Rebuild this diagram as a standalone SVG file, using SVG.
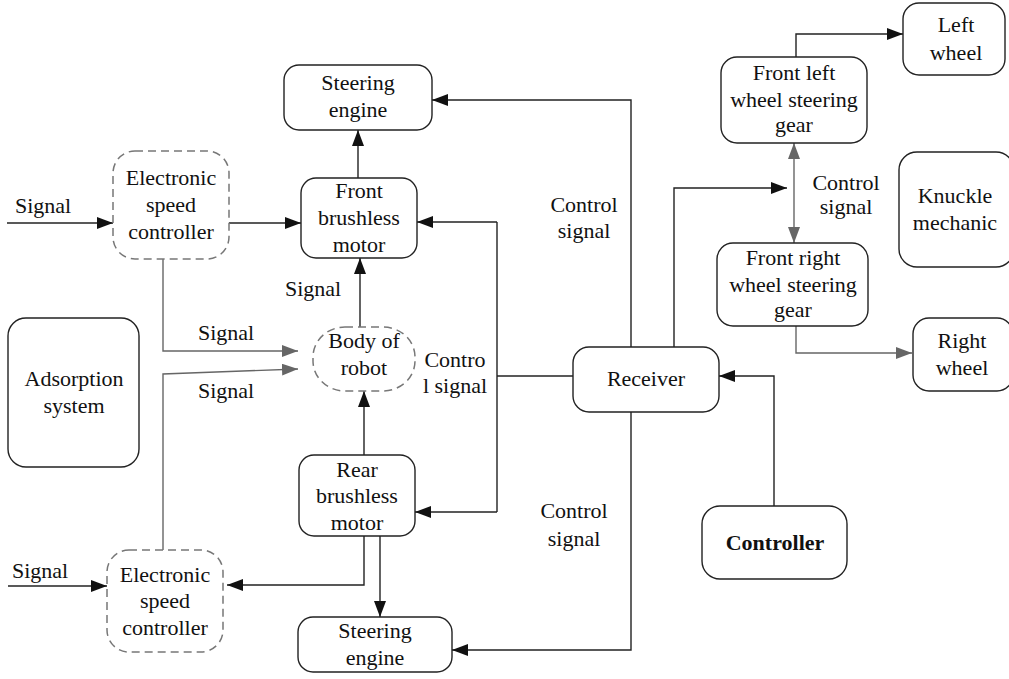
<svg xmlns="http://www.w3.org/2000/svg" width="1009" height="679" viewBox="0 0 1009 679">
<defs>
<marker id="ah" markerUnits="userSpaceOnUse" markerWidth="16" markerHeight="12" refX="16" refY="6" orient="auto"><path d="M0,0 L16,6 L0,12 z" fill="#111"/></marker>
<marker id="ahg" markerUnits="userSpaceOnUse" markerWidth="16" markerHeight="12" refX="16" refY="6" orient="auto-start-reverse"><path d="M0,0 L16,6 L0,12 z" fill="#666"/></marker>
</defs>
<rect width="1009" height="679" fill="#fff"/>
<g id="connectors" fill="none" stroke-width="1.4">
<g stroke="#222">
<path marker-end="url(#ah)" d="M7,223 H113"/>
<path marker-end="url(#ah)" d="M229,223 H301"/>
<path marker-end="url(#ah)" d="M358,178 V130"/>
<path marker-end="url(#ah)" d="M360,327 V258"/>
<path marker-end="url(#ah)" d="M364,455 V391"/>
<path marker-end="url(#ah)" d="M364,536 V585 H227"/>
<path marker-end="url(#ah)" d="M380,536 V617"/>
<path marker-end="url(#ah)" d="M8,586 H107"/>
<path d="M573,376 H497"/>
<path d="M497,222 V512"/>
<path marker-end="url(#ah)" d="M497,222 H417"/>
<path marker-end="url(#ah)" d="M497,512 H415"/>
<path marker-end="url(#ah)" d="M631,347 V100 H432"/>
<path marker-end="url(#ah)" d="M631,412 V650 H452"/>
<path marker-end="url(#ah)" d="M674,347 V188 H787"/>
<path marker-end="url(#ah)" d="M796,57 V34 H903"/>
<path marker-end="url(#ah)" d="M774,506 V376 H719"/>
</g>
<g stroke="#666">
<path marker-end="url(#ahg)" d="M163,259 V351 H298"/>
<path marker-end="url(#ahg)" d="M163,550 V374 L298,369"/>
<path marker-start="url(#ahg)" marker-end="url(#ahg)" d="M794,143 V243"/>
<path marker-end="url(#ahg)" d="M796,326 V353 H912"/>
</g>
</g>
<g font-size="22" fill="#111" text-anchor="middle">
<g id="labels">
<text font-family="Liberation Serif" text-anchor="start" x="15" y="213">Signal</text>
<text font-family="Liberation Serif" text-anchor="start" x="285" y="296">Signal</text>
<text font-family="Liberation Serif" text-anchor="start" x="198" y="340">Signal</text>
<text font-family="Liberation Serif" text-anchor="start" x="198" y="398">Signal</text>
<text font-family="Liberation Serif" text-anchor="start" x="12" y="578">Signal</text>
<text font-family="Liberation Serif" x="455" y="367">Contro</text>
<text font-family="Liberation Serif" x="455" y="393">l signal</text>
<text font-family="Liberation Serif" x="584" y="212">Control</text>
<text font-family="Liberation Serif" x="584" y="238">signal</text>
<text font-family="Liberation Serif" x="846" y="190">Control</text>
<text font-family="Liberation Serif" x="846" y="214">signal</text>
<text font-family="Liberation Serif" x="574" y="518">Control</text>
<text font-family="Liberation Serif" x="574" y="546">signal</text>
</g>
<g id="steering-top"><rect fill="#fff" stroke="#222" stroke-width="1.4" x="284" y="65" width="148" height="65" rx="15"/><text font-family="Liberation Serif" x="358" y="90">Steering</text><text font-family="Liberation Serif" x="358" y="117">engine</text></g>
<g id="front-motor"><rect fill="#fff" stroke="#222" stroke-width="1.4" x="301" y="178" width="116" height="80" rx="15"/><text font-family="Liberation Serif" x="359" y="198">Front</text><text font-family="Liberation Serif" x="359" y="225">brushless</text><text font-family="Liberation Serif" x="359" y="252">motor</text></g>
<g id="esc-top"><rect fill="#fff" stroke="#777" stroke-width="1.5" stroke-dasharray="8 5" x="113" y="151" width="116" height="108" rx="22"/><text font-family="Liberation Serif" x="171" y="185">Electronic</text><text font-family="Liberation Serif" x="171" y="212">speed</text><text font-family="Liberation Serif" x="171" y="239">controller</text></g>
<g id="body"><rect fill="#fff" stroke="#777" stroke-width="1.5" stroke-dasharray="8 5" x="313" y="327" width="102" height="64" rx="32" ry="30"/><text font-family="Liberation Serif" x="364" y="348">Body of</text><text font-family="Liberation Serif" x="364" y="375">robot</text></g>
<g id="adsorption"><rect fill="#fff" stroke="#222" stroke-width="1.4" x="8" y="318" width="131" height="149" rx="18"/><text font-family="Liberation Serif" x="74" y="386">Adsorption</text><text font-family="Liberation Serif" x="74" y="413">system</text></g>
<g id="rear-motor"><rect fill="#fff" stroke="#222" stroke-width="1.4" x="299" y="455" width="116" height="81" rx="15"/><text font-family="Liberation Serif" x="357" y="477">Rear</text><text font-family="Liberation Serif" x="357" y="503">brushless</text><text font-family="Liberation Serif" x="357" y="530">motor</text></g>
<g id="esc-bottom"><rect fill="#fff" stroke="#777" stroke-width="1.5" stroke-dasharray="8 5" x="107" y="550" width="116" height="102" rx="22"/><text font-family="Liberation Serif" x="165" y="582">Electronic</text><text font-family="Liberation Serif" x="165" y="608">speed</text><text font-family="Liberation Serif" x="165" y="635">controller</text></g>
<g id="steering-bottom"><rect fill="#fff" stroke="#222" stroke-width="1.4" x="298" y="617" width="154" height="55" rx="15"/><text font-family="Liberation Serif" x="375" y="638">Steering</text><text font-family="Liberation Serif" x="375" y="665">engine</text></g>
<g id="receiver"><rect fill="#fff" stroke="#222" stroke-width="1.4" x="573" y="347" width="146" height="65" rx="16"/><text font-family="Liberation Serif" x="646" y="386">Receiver</text></g>
<g id="controller"><rect fill="#fff" stroke="#222" stroke-width="1.4" x="702" y="506" width="145" height="73" rx="18"/><text font-family="Liberation Serif" font-weight="bold" x="775" y="550">Controller</text></g>
<g id="fl-gear"><rect fill="#fff" stroke="#222" stroke-width="1.4" x="721" y="57" width="146" height="86" rx="16"/><text font-family="Liberation Serif" x="794" y="80">Front left</text><text font-family="Liberation Serif" x="794" y="107">wheel steering</text><text font-family="Liberation Serif" x="794" y="132">gear</text></g>
<g id="fr-gear"><rect fill="#fff" stroke="#222" stroke-width="1.4" x="717" y="243" width="151" height="83" rx="16"/><text font-family="Liberation Serif" x="793" y="265">Front right</text><text font-family="Liberation Serif" x="793" y="292">wheel steering</text><text font-family="Liberation Serif" x="793" y="317">gear</text></g>
<g id="left-wheel"><rect fill="#fff" stroke="#222" stroke-width="1.4" x="903" y="3" width="102" height="72" rx="16"/><text font-family="Liberation Serif" x="956" y="32">Left</text><text font-family="Liberation Serif" x="956" y="60">wheel</text></g>
<g id="knuckle"><rect fill="#fff" stroke="#222" stroke-width="1.4" x="899" y="152" width="115" height="115" rx="18"/><text font-family="Liberation Serif" x="955" y="203">Knuckle</text><text font-family="Liberation Serif" x="955" y="230">mechanic</text></g>
<g id="right-wheel"><rect fill="#fff" stroke="#222" stroke-width="1.4" x="913" y="318" width="100" height="73" rx="16"/><text font-family="Liberation Serif" x="962" y="348">Right</text><text font-family="Liberation Serif" x="962" y="375">wheel</text></g>
</g>
</svg>
